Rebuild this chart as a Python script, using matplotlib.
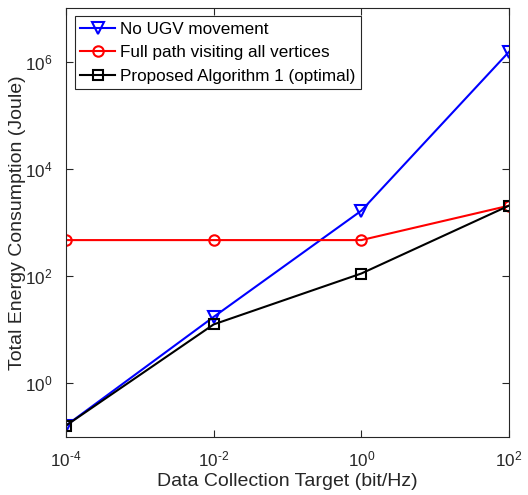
import matplotlib.pyplot as plt

plt.rcParams['font.family'] = ['Liberation Sans', 'DejaVu Sans']
plt.rcParams['mathtext.fontset'] = 'custom'
plt.rcParams['mathtext.rm'] = 'Liberation Sans'
plt.rcParams['mathtext.it'] = 'Liberation Sans'

targets = [1e-4, 1e-2, 1e0, 1e2]
no_ugv = [0.164, 17.4, 1660, 1.52e6]
full_path = [470, 470, 470, 2060]
proposed = [0.164, 12.6, 112, 2060]

x_exps = [-4, -2, 0, 2]
y_exps = [0, 2, 4, 6]


def pow_label(e):
    # MATLAB draws a plain hyphen in the exponent
    s = str(e).replace('-', r'\text{-}')
    return r'$\mathregular{10^{%s}}$' % s


fig = plt.figure(figsize=(5.28, 4.95), dpi=100)
ax = fig.add_axes([0.125, 0.117, 0.839, 0.867])

ax.plot(targets, no_ugv, color='#0000ff', lw=1.5, marker='v', ms=8,
        mfc='none', mew=1.5, label='No UGV movement')
ax.plot(targets, full_path, color='#ff0000', lw=1.5, marker='o', ms=7.5,
        mfc='none', mew=1.5, label='Full path visiting all vertices')
ax.plot(targets, proposed, color='black', lw=1.5, marker='s', ms=6.5,
        mfc='none', mew=1.5, label='Proposed Algorithm 1 (optimal)')

ax.set_xscale('log')
ax.set_yscale('log')
ax.set_xlim(1e-4, 1e2)
ax.set_ylim(1e-1, 1e7)
ax.set_xticks([10.0 ** e for e in x_exps], [pow_label(e) for e in x_exps])
ax.set_yticks([10.0 ** e for e in y_exps], [pow_label(e) for e in y_exps])
ax.minorticks_off()
ax.tick_params(direction='in', top=True, right=True, labelsize=12.3,
               colors='#262626', length=5, width=0.8)
ax.tick_params(axis='x', pad=9)
ax.tick_params(axis='y', pad=10)
for s in ax.spines.values():
    s.set_color('#262626')
    s.set_linewidth(0.8)

ax.set_xlabel('Data Collection Target (bit/Hz)', fontsize=14, color='#262626')
ax.set_ylabel('Total Energy Consumption (Joule)', fontsize=14, color='#262626')
ax.xaxis.set_label_coords(0.5, -0.084)
ax.yaxis.set_label_coords(-0.09, 0.5)

leg = ax.legend(loc='upper left', fontsize=12.3, fancybox=False, framealpha=1,
                edgecolor='#262626', handlelength=2.05, handletextpad=0.3,
                borderaxespad=0.5, labelspacing=0.49, borderpad=0.32)
leg.get_frame().set_linewidth(0.8)

fig.savefig('out.png', dpi=100)
